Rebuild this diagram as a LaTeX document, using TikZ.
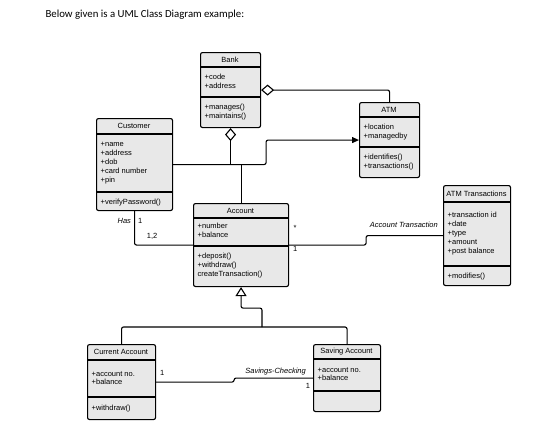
\documentclass[tikz,border=0pt]{standalone}
\usepackage{fontspec}
\setmainfont{Liberation Sans}
\newfontfamily\titlefont{Carlito}
\usetikzlibrary{arrows.meta,calc}

\tikzset{
  classbox/.style={draw, line width=1.1pt, rounded corners=2pt, fill=black!9, anchor=north west, inner sep=0pt},
  divider/.style={line width=1.1pt},
  classname/.style={font=\fontsize{7.5}{8.9}\selectfont, inner sep=0pt},
  members/.style={anchor=north west, align=left, inner xsep=4.5pt, inner ysep=0pt, yshift=-7pt, font=\fontsize{7.5}{8.9}\selectfont},
  link/.style={line width=1.1pt, rounded corners=2pt},
  mult/.style={font=\fontsize{7.5}{8.9}\selectfont, inner sep=1pt},
  role/.style={font=\fontsize{7.5}{8.9}\selectfont\itshape, inner sep=1pt},
}

% #1 name, #2 left, #3 top, #4 width, #5 header height, #6 second divider, #7 height, #8 title
\newcommand\umlclass[8]{%
  \node[classbox, minimum width=#4pt, minimum height=#7pt] (#1) at (#2,#3) {};
  \draw[divider] (#2,#3+#5) -- ++(#4,0);
  \draw[divider] (#2,#3+#6) -- ++(#4,0);
  \node[classname] (#1-name) at (#2+#4/2,#3+#5/2) {#8};
  \coordinate (#1-attr) at (#2,#3+#5);
  \coordinate (#1-ops) at (#2,#3+#6);
}

\begin{document}
\begin{tikzpicture}[x=1pt,y=-1pt]
    \useasboundingbox (0,0) rectangle (560,424);
    \node[anchor=west, font=\titlefont\fontsize{10.8}{13}\selectfont] (caption) at (42,15) {Below given is a UML Class Diagram example:};

    % classes
    \umlclass{bank}{200}{52}{60}{15}{45}{75}{Bank}
    \node[members] at (bank-attr) {+code\\+address};
    \node[members] at (bank-ops) {+manages()\\+maintains()};

    \umlclass{atm}{359}{102}{60}{15}{45}{75}{ATM}
    \node[members] at (atm-attr) {+location\\+managedby};
    \node[members] at (atm-ops) {+identifies()\\+transactions()};

    \umlclass{customer}{96}{118}{76}{16}{74}{92}{Customer}
    \node[members, yshift=-1pt] at (customer-attr) {+name\\+address\\+dob\\+card number\\+pin};
    \node[members] at (customer-ops) {+verifyPassword()};

    \umlclass{account}{193}{203}{95}{15}{43}{83}{Account}
    \node[members, yshift=2pt] at (account-attr) {+number\\+balance};
    \node[members] at (account-ops) {+deposit()\\+withdraw()\\createTransaction()};

    \umlclass{trans}{443}{185}{67}{17}{81}{100}{ATM Transactions}
    \node[members, yshift=-3pt] at (trans-attr) {+transaction id\\+date\\+type\\+amount\\+post balance};
    \node[members] at (trans-ops) {+modifies()};

    \umlclass{current}{87}{344}{68}{16}{53}{75}{Current Account}
    \node[members, yshift=-4pt] at (current-attr) {+account no.\\+balance};
    \node[members, yshift=-1pt] at (current-ops) {+withdraw()};

    \umlclass{saving}{313}{344}{67}{15}{47}{67}{Saving Account}
    \node[members, yshift=-1pt] at (saving-attr) {+account no.\\+balance};

    % aggregations
    \draw[link, {Diamond[open,length=13pt,width=11pt]}-] (bank.east) -| (atm.north);
    \draw[link, {Diamond[open,length=13pt,width=11pt]}-] (bank.south) -- (bank.south |- customer.east);

    % customer to atm
    \draw[link, -{Triangle[length=7pt,width=6pt]}] (customer.east) -- ++(93,0) |- (atm.west);
    \draw[link] (account.north) -- (account.north |- customer.east);

    % customer to account
    \draw[link] (customer.south) |- (account.west)
        node[role, pos=0.15, left=2pt] {Has}
        node[mult, pos=0.15, right=2pt] {1}
        node[mult, pos=0.65, above=4pt] {1,2};

    % account to atm transactions
    \draw[link] (account.east) -- ++(77,0) |- (trans.west);
    \node[mult] at ($(account.east)+(6,-17)$) {*};
    \node[mult] at ($(account.east)+(6,4)$) {1};
    \node[role, anchor=south east] at ($(trans.west)+(-4,-7)$) {Account Transaction};

    % generalization
    \coordinate (genjoin) at (262,327);
    \draw[link, {Triangle[open,length=9pt,width=11pt]}-] (account.south) -- ++(0,21) -| (genjoin);
    \draw[link] (current.north) |- (genjoin) -| (saving.north);

    % current to saving
    \draw[link] (current.east) -- ++(78,0) |- (saving.west);
    \node[mult] at ($(current.east)+(6,-9)$) {1};
    \node[role, anchor=south east] at ($(saving.west)+(-6,-1.5)$) {Savings-Checking};
    \node[mult] at ($(saving.west)+(-5,8)$) {1};
\end{tikzpicture}
\end{document}
